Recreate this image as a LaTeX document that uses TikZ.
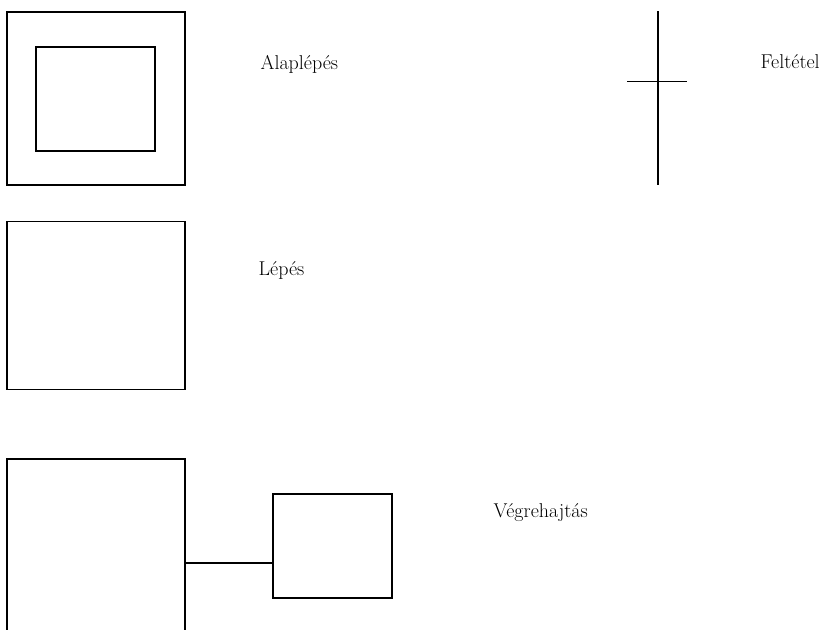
\documentclass[tikz,border=0pt]{standalone}
\usetikzlibrary{positioning, calc}
\tikzset{
    doboz/.style={draw, line width=1pt, inner sep=0pt, outer sep=0pt},
    felirat/.style={anchor=base west, inner sep=0pt, font=\fontsize{15}{17}\selectfont},
}

\begin{document}
\begin{tikzpicture}[x=0.75pt, y=-0.75pt, line width=1pt]
    \useasboundingbox (0,0) rectangle (827,629);
    \clip (0,0) rectangle (827,629);

    % Alaplépés: dupla keret
    \node[doboz, minimum width=133.5pt, minimum height=129.75pt] (alapkulso) at (96,98.5) {};
    \node[doboz, minimum width=89.25pt, minimum height=78pt] (alapbelso) at (95.5,99) {};
    \node[felirat] (alap) at (260,69) {Alaplépés};

    % Feltétel: kereszt
    \coordinate (feltfent) at (658,11);
    \coordinate (feltlent) at (658,185);
    \coordinate (feltbal) at (627,81.5);
    \coordinate (feltjobb) at (687,81.5);
    \draw (feltfent) -- (feltlent);
    \draw (feltbal) -- (feltjobb);
    \node[felirat] (felt) at (760,68) {Feltétel};

    % Lépés
    \node[doboz, minimum width=133.5pt, minimum height=126pt] (lepesdoboz) at (96,305.5) {};
    \node[felirat] (lepes) at (258,275) {Lépés};

    % Végrehajtás
    \node[doboz, minimum width=133.5pt, minimum height=133.5pt] (vegfo) at (96,548) {};
    \node[doboz, minimum width=89.25pt, minimum height=78pt] (vegkis) at (332.5,546) {};
    \coordinate (vegpont) at (vegfo.east |- 0,563);
    \draw (vegpont) -- (vegpont -| vegkis.west);
    \node[felirat] (veg) at (493,517) {Végrehajtás};

\end{tikzpicture}
\end{document}
